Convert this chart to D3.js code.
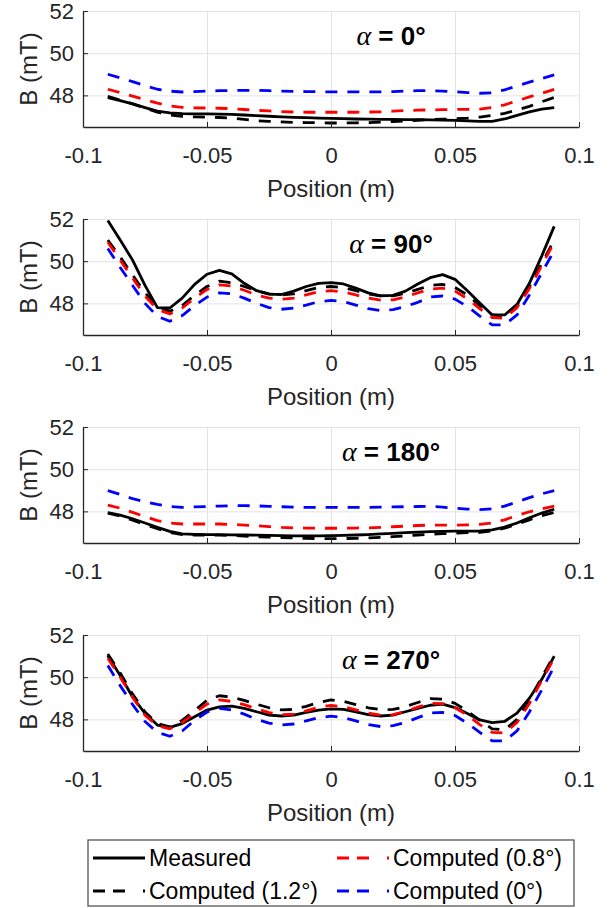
<!DOCTYPE html>
<html>
<head>
<meta charset="utf-8">
<script src="https://cdn.jsdelivr.net/npm/d3@7"></script>
<style>
    body { margin: 0; background: #fff; }
    svg { display: block; font-family: "Liberation Sans", Arial, sans-serif; }
</style>
</head>
<body>
<div id="chart"></div>
<script>
// posições ao longo do eixo (m)
const positions = [-0.09, -0.085, -0.08, -0.075, -0.07, -0.065, -0.06, -0.055, -0.05, -0.045, -0.04, -0.035, -0.03,
    -0.025, -0.02, -0.015, -0.01, -0.005, 0, 0.005, 0.01, 0.015, 0.02, 0.025, 0.03, 0.035, 0.04, 0.045, 0.05,
    0.055, 0.06, 0.065, 0.07, 0.075, 0.08, 0.085, 0.09];

const xTicks = [-0.1, -0.05, 0, 0.05, 0.1];
const yTicks = [48, 50, 52];
const angles = ["0°", "90°", "180°", "270°"];
const legendLabels = ["Measured", "Computed (1.2°)", "Computed (0.8°)", "Computed (0°)"];

// alpha = 0°
const measured_a0 = [47.89, 47.75, 47.6, 47.42, 47.25, 47.17, 47.13, 47.12, 47.12, 47.11, 47.1, 47.07, 47.04, 47.01, 46.98, 46.96, 46.94, 46.92, 46.91, 46.9, 46.88, 46.87, 46.86, 46.86, 46.85, 46.85, 46.84, 46.83, 46.81, 46.79, 46.77, 46.77, 46.88, 47.05, 47.22, 47.35, 47.42];
const comp12_a0 = [47.95, 47.78, 47.6, 47.4, 47.2, 47.07, 47.0, 46.98, 46.97, 46.95, 46.92, 46.86, 46.8, 46.77, 46.74, 46.72, 46.71, 46.7, 46.69, 46.69, 46.7, 46.71, 46.73, 46.76, 46.79, 46.82, 46.85, 46.87, 46.89, 46.92, 46.97, 47.05, 47.15, 47.3, 47.48, 47.7, 47.9];
const comp08_a0 = [48.29, 48.13, 47.96, 47.8, 47.63, 47.5, 47.43, 47.41, 47.4, 47.39, 47.37, 47.33, 47.29, 47.26, 47.23, 47.21, 47.2, 47.2, 47.2, 47.2, 47.2, 47.21, 47.22, 47.25, 47.28, 47.3, 47.31, 47.32, 47.33, 47.34, 47.35, 47.42, 47.55, 47.74, 47.93, 48.1, 48.28];
const comp00_a0 = [49.0, 48.83, 48.65, 48.46, 48.29, 48.2, 48.16, 48.18, 48.2, 48.22, 48.23, 48.24, 48.24, 48.22, 48.2, 48.19, 48.18, 48.17, 48.17, 48.17, 48.17, 48.17, 48.17, 48.18, 48.2, 48.22, 48.22, 48.2, 48.17, 48.13, 48.1, 48.12, 48.26, 48.45, 48.63, 48.8, 48.97];

// alpha = 90°
const measured_a90 = [51.93, 51.0, 50.05, 48.85, 47.8, 47.78, 48.25, 48.9, 49.38, 49.56, 49.4, 48.95, 48.6, 48.44, 48.42, 48.58, 48.8, 48.95, 48.98, 48.92, 48.72, 48.5, 48.36, 48.38, 48.58, 48.92, 49.22, 49.36, 49.14, 48.6, 48.02, 47.45, 47.45, 47.95, 48.95, 50.25, 51.65];
const comp12_a90 = [51.0, 50.2, 49.35, 48.5, 47.85, 47.62, 47.9, 48.38, 48.8, 49.05, 48.98, 48.8, 48.6, 48.45, 48.4, 48.45, 48.6, 48.75, 48.8, 48.75, 48.6, 48.45, 48.35, 48.36, 48.48, 48.66, 48.85, 48.9, 48.75, 48.4, 47.9, 47.45, 47.4, 47.9, 48.8, 49.9, 51.0];
const comp08_a90 = [50.9, 50.05, 49.2, 48.35, 47.72, 47.5, 47.78, 48.25, 48.66, 48.88, 48.82, 48.62, 48.4, 48.25, 48.2, 48.25, 48.4, 48.55, 48.6, 48.55, 48.4, 48.25, 48.15, 48.17, 48.3, 48.5, 48.68, 48.72, 48.58, 48.22, 47.75, 47.32, 47.3, 47.8, 48.7, 49.8, 50.9];
const comp00_a90 = [50.6, 49.7, 48.85, 48.0, 47.38, 47.15, 47.42, 47.9, 48.3, 48.5, 48.45, 48.25, 48.0, 47.8, 47.72, 47.78, 47.92, 48.08, 48.14, 48.08, 47.92, 47.75, 47.66, 47.7, 47.85, 48.05, 48.3, 48.35, 48.2, 47.85, 47.4, 46.98, 46.98, 47.45, 48.4, 49.45, 50.5];

// alpha = 180°
const measured_a180 = [47.94, 47.82, 47.65, 47.45, 47.24, 47.05, 46.93, 46.91, 46.9, 46.9, 46.89, 46.88, 46.87, 46.86, 46.85, 46.84, 46.84, 46.84, 46.85, 46.86, 46.88, 46.9, 46.93, 46.96, 46.99, 47.02, 47.04, 47.05, 47.06, 47.06, 47.07, 47.12, 47.25, 47.45, 47.7, 47.92, 48.1];
const comp12_a180 = [47.92, 47.78, 47.58, 47.38, 47.18, 47.0, 46.9, 46.88, 46.88, 46.87, 46.86, 46.83, 46.8, 46.78, 46.76, 46.74, 46.72, 46.71, 46.71, 46.71, 46.72, 46.74, 46.77, 46.8, 46.84, 46.88, 46.91, 46.94, 46.97, 46.99, 47.0, 47.07, 47.2, 47.4, 47.6, 47.8, 47.95];
const comp08_a180 = [48.3, 48.15, 47.95, 47.75, 47.56, 47.45, 47.4, 47.4, 47.4, 47.4, 47.38, 47.35, 47.32, 47.28, 47.24, 47.22, 47.21, 47.2, 47.2, 47.2, 47.21, 47.22, 47.24, 47.27, 47.3, 47.33, 47.35, 47.35, 47.35, 47.36, 47.38, 47.45, 47.6, 47.8, 47.98, 48.12, 48.25];
const comp00_a180 = [48.98, 48.8, 48.6, 48.45, 48.33, 48.23, 48.19, 48.21, 48.23, 48.25, 48.27, 48.27, 48.26, 48.24, 48.22, 48.2, 48.19, 48.19, 48.19, 48.19, 48.19, 48.19, 48.2, 48.21, 48.22, 48.23, 48.24, 48.2, 48.15, 48.11, 48.08, 48.12, 48.25, 48.45, 48.65, 48.83, 48.98];

// alpha = 270°
const measured_a270 = [51.02, 50.08, 49.06, 48.28, 47.73, 47.62, 47.8, 48.12, 48.44, 48.59, 48.63, 48.52, 48.36, 48.2, 48.16, 48.2, 48.33, 48.44, 48.5, 48.47, 48.36, 48.23, 48.16, 48.2, 48.36, 48.52, 48.67, 48.72, 48.56, 48.28, 47.97, 47.85, 47.9, 48.3, 49.0, 49.9, 51.0];
const comp12_a270 = [51.1, 50.2, 49.2, 48.35, 47.8, 47.65, 47.95, 48.42, 48.9, 49.12, 49.05, 48.9, 48.72, 48.55, 48.45, 48.47, 48.62, 48.8, 48.92, 48.86, 48.7, 48.55, 48.46, 48.47, 48.6, 48.8, 48.98, 48.96, 48.76, 48.4, 47.95, 47.55, 47.5, 48.0, 48.9, 50.0, 51.05];
const comp08_a270 = [50.9, 50.0, 49.05, 48.2, 47.7, 47.55, 47.85, 48.3, 48.72, 48.92, 48.85, 48.7, 48.5, 48.32, 48.22, 48.25, 48.4, 48.58, 48.66, 48.6, 48.45, 48.3, 48.2, 48.22, 48.38, 48.58, 48.76, 48.75, 48.55, 48.2, 47.75, 47.38, 47.35, 47.85, 48.75, 49.85, 50.9];
const comp00_a270 = [50.55, 49.6, 48.7, 47.9, 47.38, 47.2, 47.45, 47.95, 48.35, 48.52, 48.45, 48.25, 48.0, 47.82, 47.73, 47.78, 47.93, 48.08, 48.15, 48.08, 47.93, 47.75, 47.66, 47.7, 47.85, 48.08, 48.3, 48.33, 48.18, 47.82, 47.38, 46.98, 46.98, 47.45, 48.35, 49.4, 50.5];

const panelData = [
    [measured_a0, comp12_a0, comp08_a0, comp00_a0],
    [measured_a90, comp12_a90, comp08_a90, comp00_a90],
    [measured_a180, comp12_a180, comp08_a180, comp00_a180],
    [measured_a270, comp12_a270, comp08_a270, comp00_a270]
];

// estilo de cada série (mesma ordem da legenda)
const seriesColors = ["#000000", "#000000", "#ff0000", "#0000ff"];
const seriesDash = [null, "12,10", "12,10", "12,10"];

const W = 615, H = 908;
const left = 83, right = 579, plotH = 116;
const panelTops = [11, 219, 427, 635];
const textColor = "#262626";

const svg = d3.select("#chart").append("svg")
    .attr("width", W)
    .attr("height", H);

const x = d3.scaleLinear().domain([-0.1, 0.1]).range([left, right]);

panelData.forEach((series, p) => {
    const top = panelTops[p];
    const bottom = top + plotH;
    const y = d3.scaleLinear().domain([46.5, 52]).range([bottom, top]);

    const g = svg.append("g");

    // grade
    g.append("g")
        .attr("transform", `translate(0,${bottom})`)
        .call(d3.axisBottom(x).tickValues(xTicks).tickSize(-plotH).tickFormat(""))
        .call(s => s.select(".domain").remove())
        .call(s => s.selectAll("line").attr("stroke", "#e3e3e3").attr("stroke-width", 1));
    g.append("g")
        .attr("transform", `translate(${left},0)`)
        .call(d3.axisLeft(y).tickValues(yTicks).tickSize(-(right - left)).tickFormat(""))
        .call(s => s.select(".domain").remove())
        .call(s => s.selectAll("line").attr("stroke", "#e3e3e3").attr("stroke-width", 1));

    // linhas
    const line = d3.line()
        .x((d, i) => x(positions[i]))
        .y(d => y(d));

    series.forEach((vals, k) => {
        g.append("path")
            .datum(vals)
            .attr("d", line)
            .attr("fill", "none")
            .attr("stroke", seriesColors[k])
            .attr("stroke-width", 2.8)
            .attr("stroke-linejoin", "round")
            .attr("stroke-dasharray", seriesDash[k]);
    });

    // eixos
    const xAxis = g.append("g")
        .attr("transform", `translate(0,${bottom})`)
        .call(d3.axisBottom(x).tickValues(xTicks).tickSizeInner(-5).tickSizeOuter(0).tickPadding(20)
            .tickFormat(d => String(d)));
    const yAxis = g.append("g")
        .attr("transform", `translate(${left},0)`)
        .call(d3.axisLeft(y).tickValues(yTicks).tickSizeInner(-5).tickSizeOuter(0).tickPadding(9)
            .tickFormat(d => String(d)));

    [xAxis, yAxis].forEach(a => {
        a.select(".domain").attr("stroke", textColor).attr("stroke-width", 1.3);
        a.selectAll(".tick line").attr("stroke", textColor).attr("stroke-width", 1);
        a.selectAll("text")
            .attr("fill", textColor)
            .style("font-size", "22px")
            .style("font-family", "'Liberation Sans', Arial, sans-serif");
    });

    g.append("text")
        .attr("x", (left + right) / 2)
        .attr("y", bottom + 70)
        .attr("text-anchor", "middle")
        .attr("fill", textColor)
        .style("font-size", "24px")
        .text("Position (m)");

    g.append("text")
        .attr("transform", `translate(37,${(top + bottom) / 2}) rotate(-90)`)
        .attr("text-anchor", "middle")
        .attr("fill", textColor)
        .style("font-size", "24px")
        .text("B (mT)");

    const title = g.append("text")
        .attr("x", 391)
        .attr("y", top + 34)
        .attr("text-anchor", "middle")
        .attr("fill", "#000")
        .style("font-size", "26px")
        .style("font-weight", "bold");
    title.append("tspan")
        .style("font-family", "'Liberation Serif', 'Times New Roman', serif")
        .style("font-style", "italic")
        .style("font-weight", "normal")
        .style("font-size", "28px")
        .text("α");
    title.append("tspan").text(" = " + angles[p]);
});

// legenda
const leg = svg.append("g");
leg.append("rect")
    .attr("x", 88).attr("y", 840)
    .attr("width", 486).attr("height", 66)
    .attr("fill", "#fff")
    .attr("stroke", "#555")
    .attr("stroke-width", 1.3);

const legPos = [[93, 858], [93, 891], [337, 858], [337, 891]];
legendLabels.forEach((lab, k) => {
    const [lx, ly] = legPos[k];
    leg.append("line")
        .attr("x1", lx).attr("x2", lx + 52)
        .attr("y1", ly).attr("y2", ly)
        .attr("stroke", seriesColors[k])
        .attr("stroke-width", 2.8)
        .attr("stroke-dasharray", seriesDash[k] ? "12,8,12,18,2,100" : null);
    leg.append("text")
        .attr("x", lx + 56)
        .attr("y", ly + 8)
        .attr("fill", "#000")
        .style("font-size", "23px")
        .text(lab);
});
</script>
</body>
</html>
